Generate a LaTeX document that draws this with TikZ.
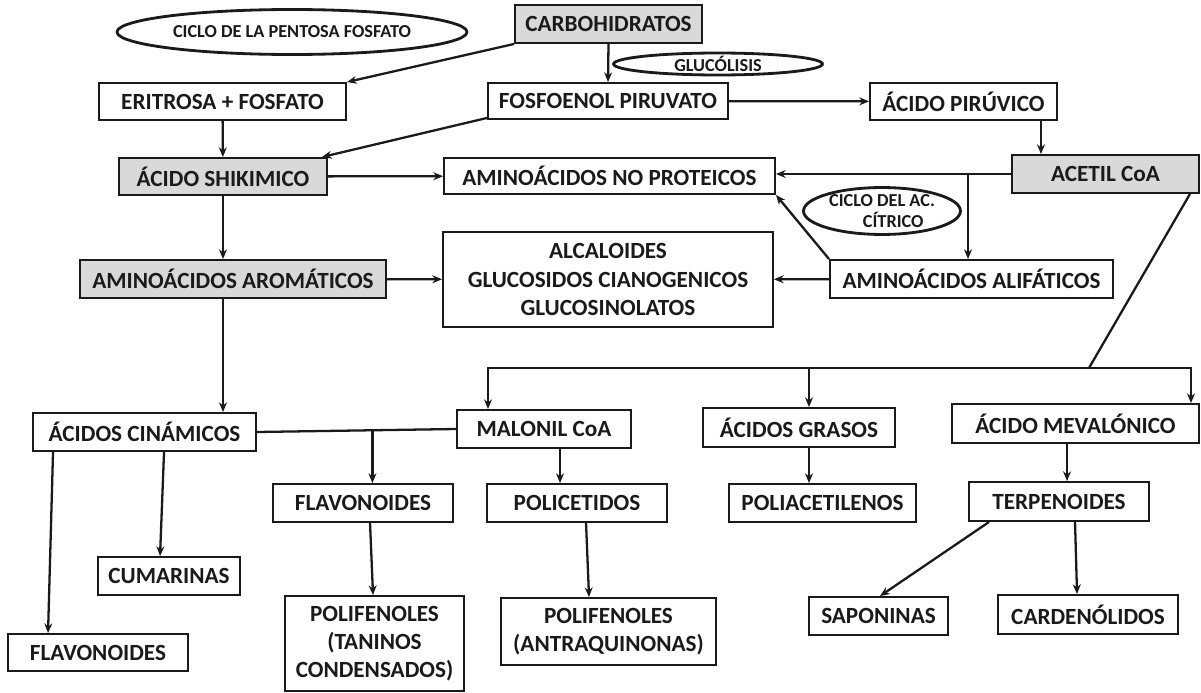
\documentclass[tikz,border=0pt]{standalone}
\usepackage{fontspec}
\setmainfont{Carlito}
\usetikzlibrary{arrows.meta,shapes.geometric,calc}
\definecolor{boxgray}{HTML}{D9D9D9}
\definecolor{ink}{HTML}{1A1A1A}
\begin{document}
\begin{tikzpicture}[x=0.02cm,y=-0.02cm,
  box/.style={draw=ink, line width=1.1pt, inner sep=0pt, font=\fontsize{13.2}{16}\selectfont\bfseries, align=center, text=ink},
  gbox/.style={box, fill=boxgray},
  sz/.style 2 args={minimum width=#1*0.02cm, minimum height=#2*0.02cm},
  oval/.style={ellipse, draw=ink, line width=1.6pt, inner sep=0pt, font=\fontsize{10.4}{12}\selectfont\bfseries, align=center, text=ink},
  arr/.style={-{Stealth[length=5.5pt,width=4.5pt]}, line width=1.3pt, draw=ink},
  ln/.style={line width=1.3pt, draw=ink}]
\fill[white] (0,0) rectangle (1201,693);
\useasboundingbox (0,0) rectangle (1201,693);

% ellipses
\node[oval, minimum width=7cm, minimum height=0.9cm] (pent) at (292,32) {CICLO DE LA PENTOSA FOSFATO};
\node[oval, minimum width=4.18cm, minimum height=0.44cm] (glu) at (718,64) {GLUCÓLISIS};
\node[oval, minimum width=3.14cm, minimum height=0.9cm] (citr) at (882,211) {CICLO DEL AC.\\\hspace*{0.45cm}CÍTRICO};

% boxes
\node[gbox, sz={187}{38}] (carb) at (608.5,24) {CARBOHIDRATOS};
\node[box, sz={247}{37}] (erit) at (222.5,101.5) {ERITROSA + FOSFATO};
\node[box, sz={240}{36}] (fosf) at (608,101) {FOSFOENOL PIRUVATO};
\node[box, sz={187}{37}] (piru) at (963.5,101.5) {ÁCIDO PIRÚVICO};
\node[gbox, sz={208}{37}] (shik) at (223,176.5) {ÁCIDO SHIKIMICO};
\node[box, sz={331}{36}] (noprot) at (609.5,176) {AMINOÁCIDOS NO PROTEICOS};
\node[gbox, sz={187}{38}] (acet) at (1105.5,174) {ACETIL CoA};
\node[gbox, sz={306}{38}] (arom) at (233,279) {AMINOÁCIDOS AROMÁTICOS};
\node[box, sz={330}{95}] (alca) at (608,279.5) {ALCALOIDES\\GLUCOSIDOS CIANOGENICOS\\GLUCOSINOLATOS};
\node[box, sz={283}{38}] (alif) at (971.5,279) {AMINOÁCIDOS ALIFÁTICOS};
\node[box, sz={223}{38}] (cina) at (144.5,432) {ÁCIDOS CINÁMICOS};
\node[box, sz={174}{38}] (malo) at (544,429) {MALONIL CoA};
\node[box, sz={192}{39}] (gras) at (799,427.5) {ÁCIDOS GRASOS};
\node[box, sz={247}{39}] (meva) at (1075.5,423.5) {ÁCIDO MEVALÓNICO};
\node[box, sz={180}{38}] (flav1) at (363,503) {FLAVONOIDES};
\node[box, sz={180}{38}] (poli) at (577,503) {POLICETIDOS};
\node[box, sz={187}{38}] (pacet) at (822.5,503) {POLIACETILENOS};
\node[box, sz={180}{39}] (terp) at (1059,501.5) {TERPENOIDES};
\node[box, sz={142}{38}] (cuma) at (169,576) {CUMARINAS};
\node[box, sz={180}{37}] (flav2) at (98,652.5) {FLAVONOIDES};
\node[box, sz={179}{95}] (tani) at (374.5,643.5) {POLIFENOLES\\(TANINOS\\CONDENSADOS)};
\node[box, sz={215}{67}] (antr) at (608.5,631.5) {POLIFENOLES\\(ANTRAQUINONAS)};
\node[box, sz={139}{38}] (sapo) at (878.5,616) {SAPONINAS};
\node[box, sz={180}{39}] (card) at (1088,614.5) {CARDENÓLIDOS};

% connectors
\draw[arr] (carb.south west) -- (erit.north east);
\draw[arr] (carb.south) -- (fosf.north);
\draw[arr] ($(fosf.south west)+(0,-2)$) -- ($(shik.north east)+(-6,0)$);
\draw[arr] (erit) -- (shik);
\draw[arr] (fosf) -- (piru);
\coordinate (p1) at ($(piru.south east)+(-17,0)$);
\draw[arr] (p1) -- (p1 |- acet.north);
\draw[arr] (shik) -- (noprot);
\draw[arr] (acet.west) -- (acet.west -| noprot.east);
\coordinate (j1) at ($(acet.west)+(-43,0)$);
\draw[arr] (j1) -- (j1 |- alif.north);
\draw[arr] (alif.north west) -- (noprot.south east);
\draw[arr] (shik.south) -- (shik.south |- arom.north);
\draw[arr] (arom) -- (alca);
\draw[arr] (alif) -- (alca);
\draw[arr] (shik.south |- arom.south) -- (shik.south |- cina.north);

\coordinate (bj) at (1089,368);
\coordinate (bl) at (488,368);
\coordinate (br) at (1191,368);
\coordinate (bm) at (809,368);
\draw[ln] ($(acet.south east)+(-10,0)$) -- (bj);
\draw[arr] (bj) -- (br) -- (br |- meva.north);
\draw[arr] (bj) -- (bl) -- (bl |- malo.north);
\draw[arr] (bm) -- (bm |- gras.north);

\draw[ln] (cina.east) -- (malo.west);
\coordinate (j2) at ($(cina.east)!0.58!(malo.west)$);
\draw[arr] (j2) -- (j2 |- flav1.north);
\coordinate (m1) at ($(malo.south west)+(104,0)$);
\draw[arr] (m1) -- (m1 |- poli.north);
\draw[arr] ($(cina.south west)+(21,0)$) -- ($(flav2.north west)+(41,0)$);
\draw[arr] ($(cina.south west)+(132,0)$) -- ($(cuma.north west)+(63,0)$);
\draw[arr] ($(flav1.south west)+(98,0)$) -- ($(tani.north west)+(89,0)$);
\draw[arr] ($(poli.south west)+(100,0)$) -- ($(antr.north west)+(89,0)$);
\draw[arr] (bm |- gras.south) -- (bm |- pacet.north);
\coordinate (m2) at ($(meva.south west)+(116,0)$);
\draw[arr] (m2) -- (m2 |- terp.north);
\draw[arr] ($(terp.south west)+(21,0)$) -- ($(sapo.north west)+(72,0)$);
\draw[arr] ($(terp.south west)+(107,0)$) -- ($(card.north west)+(80,0)$);
\end{tikzpicture}
\end{document}
